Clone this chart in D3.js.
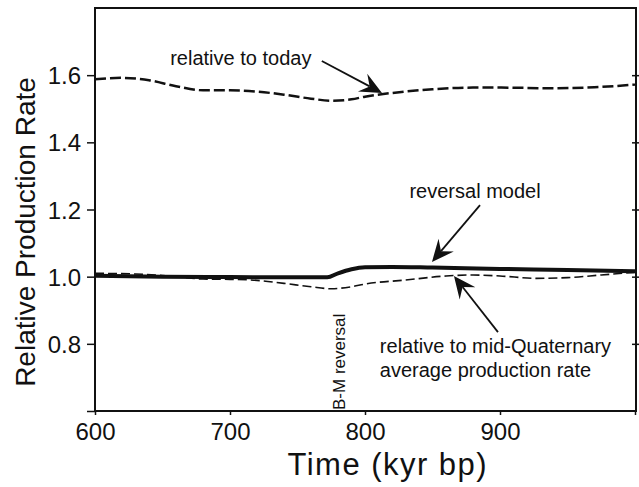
<!DOCTYPE html>
<html><head><meta charset="utf-8">
<script src="https://cdn.jsdelivr.net/npm/d3@7"></script>
<style>html,body{margin:0;padding:0;background:#fff;}svg{display:block;}text{font-family:"Liberation Sans",Arial,sans-serif;fill:#111;}</style>
</head><body>
<script>
// Data
const todayTime  = [600,620,640,660,680,700,720,740,760,775,790,800,820,850,880,900,940,970,1000];
const todayValue = [1.588,1.592,1.585,1.567,1.555,1.555,1.551,1.542,1.530,1.524,1.528,1.536,1.547,1.558,1.563,1.563,1.561,1.564,1.572];

const revTime  = [600,650,700,750,772,780,790,800,820,850,900,950,1000];
const revValue = [1.003,1.0,0.999,0.998,0.998,1.01,1.022,1.028,1.029,1.027,1.023,1.02,1.016];

const midTime  = [600,630,660,680,700,720,740,760,775,790,800,830,860,880,900,927,950,975,1000];
const midValue = [1.01,1.008,1.0,0.993,0.992,0.989,0.98,0.97,0.964,0.97,0.978,0.99,1.002,1.005,1.002,0.995,0.997,1.005,1.013];

const xTicks = [600,700,800,900,1000];
const xTickLabels = ["600","700","800","900",""];
const yTicks = [0.6,0.8,1.0,1.2,1.4,1.6];
const yTickLabels = ["","0.8","1.0","1.2","1.4","1.6"];

const W = 639, H = 487;
const svg = d3.select("body").append("svg").attr("width", W).attr("height", H);

const x = d3.scaleLinear().domain([600,1000]).range([95,635]);
const y = d3.scaleLinear().domain([0.6,1.8]).range([411,8]);

// frame
svg.append("rect").attr("x",95).attr("y",8).attr("width",541).attr("height",403)
  .attr("fill","none").attr("stroke","#111").attr("stroke-width",2);

// axes
const yAxis = d3.axisLeft(y).tickValues(yTicks).tickSize(8).tickPadding(6)
  .tickFormat((d,i)=>yTickLabels[i]);
const gy = svg.append("g").attr("transform","translate(95,0)").call(yAxis);
gy.select(".domain").remove();
gy.selectAll("line").attr("stroke","#111").attr("stroke-width",1.5);
gy.selectAll("text").style("font-size","24px").attr("fill","#111").attr("dy","0.36em");

const xAxis = d3.axisBottom(x).tickValues(xTicks).tickSize(4).tickPadding(8)
  .tickFormat((d,i)=>xTickLabels[i]);
const gx = svg.append("g").attr("transform","translate(0,411)").call(xAxis);
gx.select(".domain").remove();
gx.selectAll("line").attr("stroke","#111").attr("stroke-width",1.5);
gx.selectAll("text").style("font-size","24px").attr("fill","#111");

// right side ticks crossing the frame
const yR = d3.axisRight(y).tickValues(yTicks.slice(1)).tickSizeInner(4).tickSizeOuter(0).tickFormat("");
const gr = svg.append("g").attr("transform","translate(632,0)").call(yR);
gr.select(".domain").remove();
gr.selectAll("line").attr("stroke","#111").attr("stroke-width",1.5).attr("x2",8);

// lines
const line = d3.line().x(d=>x(d[0])).y(d=>y(d[1])).curve(d3.curveMonotoneX);
svg.append("path").datum(d3.zip(todayTime,todayValue)).attr("d",line)
  .attr("fill","none").attr("stroke","#111").attr("stroke-width",2.5).attr("stroke-dasharray","11,4");
svg.append("path").datum(d3.zip(midTime,midValue)).attr("d",line)
  .attr("fill","none").attr("stroke","#111").attr("stroke-width",1.6).attr("stroke-dasharray","9,4");
svg.append("path").datum(d3.zip(revTime,revValue)).attr("d",line)
  .attr("fill","none").attr("stroke","#111").attr("stroke-width",4);

// arrows (data coordinates)
function arrow(t0,v0,t1,v1){
  const x0=x(t0), y0=y(v0), x1=x(t1), y1=y(v1);
  const dx=x1-x0, dy=y1-y0, L=Math.hypot(dx,dy), ux=dx/L, uy=dy/L, px=-uy, py=ux;
  const hl=22, hw=10, notch=14;
  svg.append("line").attr("x1",x0).attr("y1",y0).attr("x2",x1-ux*notch).attr("y2",y1-uy*notch)
    .attr("stroke","#111").attr("stroke-width",1.8);
  const pts=[[x1,y1],[x1-ux*hl+px*hw,y1-uy*hl+py*hw],[x1-ux*notch,y1-uy*notch],[x1-ux*hl-px*hw,y1-uy*hl-py*hw]];
  svg.append("path").attr("d","M"+pts.map(p=>p.join(",")).join("L")+"Z").attr("fill","#111");
}
arrow(768,1.642,812.6,1.547);
arrow(885.2,1.213,849.6,1.044);
arrow(898.5,0.835,865.9,1.002);

// annotations
function label(t,v,txt,anchor,size){
  svg.append("text").attr("x",x(t)).attr("y",y(v)).attr("text-anchor",anchor)
    .style("font-size",size+"px").text(txt);
}
label(708,1.630,"relative to today","middle",20);
label(881.5,1.234,"reversal model","middle",20);
label(811,0.7727,"relative to mid-Quaternary","start",20);
label(811,0.701,"average production rate","start",20);

svg.append("text").attr("transform",`translate(${x(785.2)},${y(0.6)-1}) rotate(-90)`)
  .attr("text-anchor","start").style("font-size","17px").text("B-M reversal");

// axis titles
svg.append("text").attr("transform","translate(35,232) rotate(-90)").attr("text-anchor","middle")
  .style("font-size","28px").text("Relative Production Rate");
svg.append("text").attr("x",387).attr("y",475).attr("text-anchor","middle")
  .style("font-size","31px").attr("textLength",199).attr("lengthAdjust","spacing").text("Time (kyr bp)");
</script>
</body></html>
